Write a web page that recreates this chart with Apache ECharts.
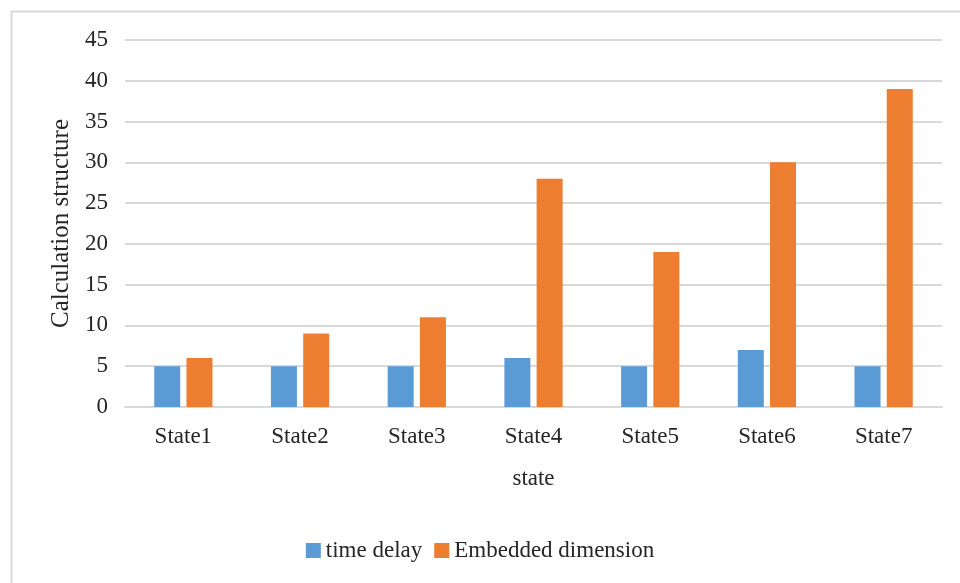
<!DOCTYPE html>
<html>
<head>
<meta charset="utf-8">
<script src="https://cdn.jsdelivr.net/npm/echarts@6/dist/echarts.min.js"></script>
<style>
  html, body { margin: 0; padding: 0; background: #fff; }
  #chart { width: 960px; height: 583px; }
</style>
</head>
<body>
<div id="chart"></div>
<script>
// Categories and series values
const categories = ['State1', 'State2', 'State3', 'State4', 'State5', 'State6', 'State7'];
const timeDelay = [5, 5, 5, 6, 5, 7, 5];
const embeddedDimension = [6, 9, 11, 28, 19, 30, 39];

const FONT = '"Liberation Serif", "Times New Roman", serif';
const TEXT = '#262626';

const chart = echarts.init(document.getElementById('chart'), null, { renderer: 'canvas' });

chart.setOption({
  backgroundColor: '#ffffff',
  animation: false,
  textStyle: { fontFamily: FONT, color: TEXT },
  graphic: [{
    type: 'rect',
    left: 9, top: 9,
    shape: { width: 1000, height: 700 },
    style: { fill: 'none', stroke: '#d9d9d9', lineWidth: 2 },
    silent: true, z: -10
  }],
  grid: { left: 125, right: 18, top: 40, bottom: 176, containLabel: false },
  legend: {
    top: 534,
    left: 'center',
    itemWidth: 15, itemHeight: 15, itemGap: 12,
    icon: 'rect',
    textStyle: { fontFamily: FONT, fontSize: 23, color: TEXT },
    data: ['time delay', 'Embedded dimension']
  },
  xAxis: {
    type: 'category',
    data: categories,
    name: 'state',
    nameLocation: 'middle',
    nameGap: 60,
    nameTextStyle: { fontFamily: FONT, fontSize: 23, color: TEXT },
    axisLine: { lineStyle: { color: '#d9d9d9', width: 2 } },
    axisTick: { show: false },
    axisLabel: { fontFamily: FONT, fontSize: 23, color: TEXT, margin: 18 }
  },
  yAxis: {
    type: 'value',
    min: 0, max: 45, interval: 5,
    name: 'Calculation structure',
    nameLocation: 'middle',
    nameGap: 49,
    nameTextStyle: { fontFamily: FONT, fontSize: 25, color: TEXT },
    axisLine: { show: false },
    axisTick: { show: false },
    axisLabel: { fontFamily: FONT, fontSize: 23, color: TEXT, margin: 17 },
    splitLine: { lineStyle: { color: '#d9d9d9', width: 2 } }
  },
  series: [
    {
      name: 'time delay',
      type: 'bar',
      data: timeDelay,
      barWidth: 26,
      barGap: '24%',
      itemStyle: { color: '#5B9BD5' }
    },
    {
      name: 'Embedded dimension',
      type: 'bar',
      data: embeddedDimension,
      barWidth: 26,
      barGap: '24%',
      itemStyle: { color: '#ED7D31' }
    }
  ]
});
</script>
</body>
</html>
